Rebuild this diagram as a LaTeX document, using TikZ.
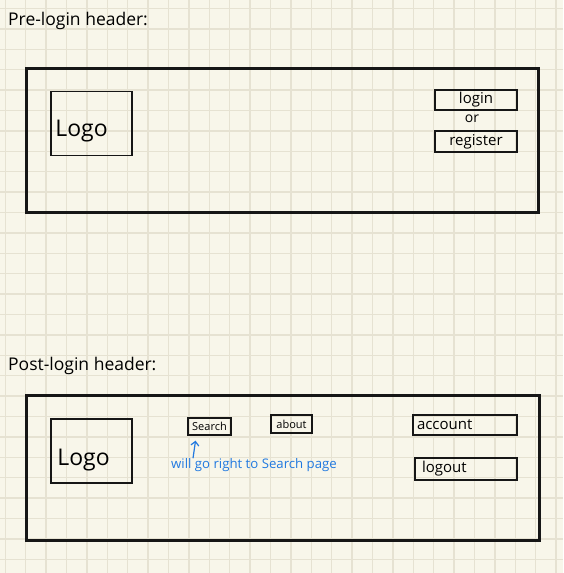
\documentclass[tikz,border=0pt]{standalone}
\usepackage{fontspec}
\setmainfont{Open Sans}
\usetikzlibrary{positioning,arrows.meta}

\definecolor{paper}{HTML}{F8F6EA}
\definecolor{gridline}{HTML}{E6E2D2}
\definecolor{pen}{HTML}{161616}
\definecolor{notepen}{HTML}{2179E0}

\tikzset{
  frame/.style={draw=pen, line width=3pt, inner sep=0pt},
  logobox/.style={draw=pen, line width=1.6pt, minimum width=81pt, minimum height=64pt},
  logotext/.style={inner sep=0pt, font=\fontsize{23}{25}\selectfont},
  btn/.style={draw=pen, line width=1.5pt, inner sep=0pt, font=\fontsize{15}{17}\selectfont},
  title/.style={anchor=base west, inner sep=0pt, font=\fontsize{17.5}{20}\selectfont},
}

\begin{document}
\begin{tikzpicture}[x=1pt,y=-1pt,node distance=4pt]
  % paper and grid
  \fill[paper] (0,0) rectangle (563,573);
  \useasboundingbox (0,0) rectangle (563,573);
  \foreach \i in {0,...,27}{
    \draw[gridline, line width=1.3pt] (5.3+20.4*\i,0) -- (5.3+20.4*\i,573);
    \draw[gridline, line width=1.3pt] (0,8.5+20.4*\i) -- (563,8.5+20.4*\i);
  }

  % pre-login header
  \node[title] (pretitle) at (8,25) {Pre-login header:};
  \node[frame, minimum width=512pt, minimum height=144pt] (prebar) at (282,140) {};
  \node[logobox] (prelogo) at (91.5,123.5) {};
  \node[logotext] (prelogotext) at ([shift={(-10,8)}]prelogo.center) {Logo};
  \node[btn, minimum width=82pt, minimum height=20pt] (login) at (476,100) {login};
  \node[inner sep=0pt, font=\fontsize{14}{16}\selectfont] (or) at (472,119) {or};
  \node[btn, minimum width=82pt, minimum height=21pt] (register) at (476,141.5) {register};

  % post-login header
  \node[title] (posttitle) at (8,370) {Post-login header:};
  \node[frame, minimum width=513pt, minimum height=145pt] (postbar) at (282.5,467.5) {};
  \node[logobox] (postlogo) at (91.5,451) {};
  \node[logotext] (postlogotext) at ([shift={(-8,9)}]postlogo.center) {Logo};
  \node[btn, minimum width=43pt, minimum height=17pt, font=\fontsize{11}{13}\selectfont] (search) at (209.5,426.5) {Search};
  \node[btn, minimum width=41pt, minimum height=18pt, font=\fontsize{11}{13}\selectfont] (about) at (291.5,424) {about};
  \node[btn, minimum width=104pt, minimum height=20pt, text width=96pt, align=left] (account) at (465,425) {account};
  \node[btn, minimum width=102pt, minimum height=22pt, text width=88pt, align=left] (logout) at (466,469) {logout};

  % note
  \node[text=notepen, inner sep=0pt, font=\fontsize{13.2}{15}\selectfont] (note) at (254,465) {will go right to Search page};
  \draw[notepen, line width=1.2pt, -{Straight Barb[length=4pt]}, shorten >=5pt]
    ([xshift=22pt]note.north west) -- ([xshift=9pt]search.south west);
\end{tikzpicture}
\end{document}
